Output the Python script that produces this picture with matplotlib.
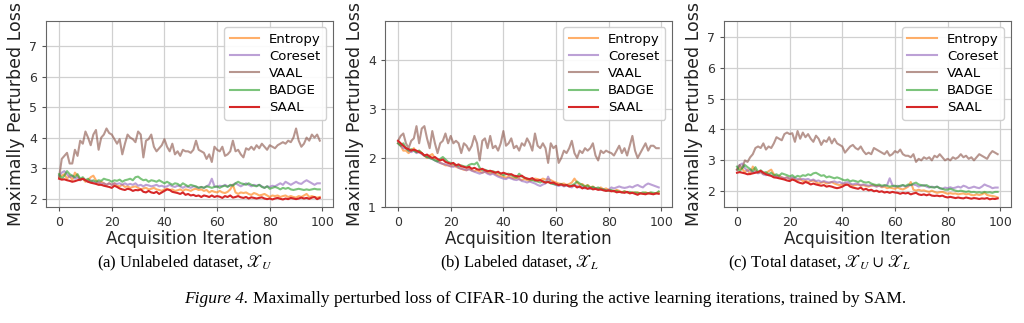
import numpy as np
import matplotlib
matplotlib.use("Agg")
import matplotlib.pyplot as plt

# methods shown in every panel
methods = ["Entropy", "Coreset", "VAAL", "BADGE", "SAAL"]
colors = ["tab:orange", "tab:purple", "tab:brown", "tab:green", "tab:red"]

# (a) unlabeled dataset
unl_entropy = [2.70, 2.75, 2.80, 2.65, 2.75, 2.60, 2.85, 2.75, 2.60, 2.65, 2.55, 2.60, 2.70, 2.75, 2.60, 2.50, 2.55, 2.50, 2.45, 2.50,
               2.45, 2.50, 2.42, 2.40, 2.45, 2.38, 2.40, 2.35, 2.38, 2.40, 2.35, 2.30, 2.33, 2.35, 2.30, 2.32, 2.35, 2.30, 2.28, 2.25,
               2.30, 2.32, 2.28, 2.30, 2.25, 2.27, 2.30, 2.25, 2.30, 2.28, 2.25, 2.30, 2.32, 2.28, 2.30, 2.25, 2.28, 2.20, 2.25, 2.22,
               2.20, 2.25, 2.20, 2.18, 2.22, 2.30, 2.45, 2.20, 2.15, 2.20, 2.18, 2.20, 2.15, 2.12, 2.18, 2.15, 2.10, 2.12, 2.15, 2.10,
               2.05, 2.10, 2.08, 2.10, 2.05, 2.08, 2.10, 2.05, 2.08, 2.05, 2.03, 2.08, 2.05, 2.10, 2.15, 2.05, 2.08, 2.05, 2.03, 2.05]
unl_coreset = [2.75, 2.85, 2.90, 2.80, 2.70, 2.75, 2.65, 2.70, 2.60, 2.65, 2.60, 2.55, 2.60, 2.55, 2.50, 2.55, 2.48, 2.50, 2.45, 2.50,
               2.45, 2.50, 2.48, 2.50, 2.45, 2.50, 2.45, 2.48, 2.45, 2.50, 2.42, 2.45, 2.40, 2.45, 2.43, 2.40, 2.42, 2.45, 2.40, 2.42,
               2.38, 2.40, 2.45, 2.40, 2.38, 2.42, 2.40, 2.35, 2.40, 2.38, 2.35, 2.40, 2.38, 2.35, 2.38, 2.35, 2.40, 2.45, 2.65, 2.40,
               2.38, 2.42, 2.40, 2.45, 2.40, 2.42, 2.45, 2.50, 2.45, 2.40, 2.45, 2.50, 2.45, 2.40, 2.45, 2.42, 2.45, 2.40, 2.35, 2.40,
               2.38, 2.42, 2.40, 2.45, 2.50, 2.45, 2.55, 2.50, 2.45, 2.50, 2.55, 2.50, 2.48, 2.55, 2.60, 2.55, 2.50, 2.45, 2.50, 2.50]
unl_vaal = [2.70, 3.30, 3.40, 3.50, 3.15, 3.15, 3.60, 3.40, 3.90, 3.80, 4.20, 4.00, 3.75, 4.10, 4.25, 3.60, 4.00, 4.10, 4.30, 4.15,
            4.10, 3.95, 3.80, 3.95, 3.45, 3.80, 4.10, 4.00, 3.95, 3.85, 4.20, 4.10, 3.35, 3.90, 3.95, 4.10, 3.70, 3.55, 3.65, 3.75,
            3.95, 3.70, 3.55, 3.80, 3.45, 3.55, 3.40, 3.60, 3.55, 3.55, 3.50, 3.60, 3.90, 3.60, 3.55, 3.50, 3.30, 3.45, 3.20, 3.70,
            3.60, 3.55, 3.70, 3.40, 3.45, 3.55, 3.90, 3.55, 3.60, 3.45, 3.35, 3.65, 3.60, 3.70, 3.60, 3.75, 3.65, 3.80, 3.70, 3.60,
            3.75, 3.70, 3.65, 3.75, 3.80, 3.85, 3.80, 3.90, 3.85, 4.00, 4.30, 3.90, 3.70, 3.80, 4.00, 3.90, 4.10, 4.00, 4.10, 3.90]
unl_badge = [2.80, 2.65, 2.75, 2.90, 2.80, 2.75, 2.70, 2.80, 2.65, 2.70, 2.60, 2.65, 2.55, 2.60, 2.55, 2.60, 2.58, 2.65, 2.62, 2.60,
             2.55, 2.60, 2.58, 2.62, 2.55, 2.60, 2.62, 2.65, 2.60, 2.70, 2.72, 2.65, 2.60, 2.62, 2.55, 2.60, 2.58, 2.55, 2.60, 2.55,
             2.50, 2.55, 2.50, 2.45, 2.50, 2.48, 2.42, 2.50, 2.45, 2.40, 2.45, 2.42, 2.40, 2.35, 2.38, 2.35, 2.40, 2.38, 2.35, 2.38,
             2.40, 2.35, 2.40, 2.42, 2.38, 2.45, 2.42, 2.50, 2.55, 2.50, 2.48, 2.45, 2.50, 2.45, 2.42, 2.40, 2.45, 2.38, 2.35, 2.40,
             2.32, 2.35, 2.38, 2.35, 2.30, 2.35, 2.32, 2.35, 2.30, 2.28, 2.30, 2.32, 2.30, 2.28, 2.30, 2.28, 2.30, 2.32, 2.30, 2.30]
unl_saal = [2.65, 2.62, 2.63, 2.60, 2.58, 2.55, 2.57, 2.60, 2.62, 2.65, 2.60, 2.55, 2.52, 2.50, 2.48, 2.45, 2.45, 2.42, 2.40, 2.38,
            2.35, 2.42, 2.38, 2.33, 2.30, 2.28, 2.32, 2.30, 2.25, 2.28, 2.27, 2.30, 2.22, 2.20, 2.25, 2.20, 2.18, 2.22, 2.15, 2.20,
            2.25, 2.30, 2.28, 2.22, 2.20, 2.18, 2.15, 2.20, 2.12, 2.15, 2.10, 2.12, 2.08, 2.10, 2.05, 2.10, 2.08, 2.05, 2.10, 2.05,
            2.08, 2.06, 2.02, 2.08, 2.05, 2.10, 2.03, 2.05, 2.08, 2.04, 2.02, 2.05, 2.00, 2.04, 2.02, 2.00, 2.02, 2.04, 2.00, 1.98,
            2.00, 1.97, 2.00, 2.02, 1.99, 1.97, 2.00, 1.98, 2.02, 2.00, 1.98, 2.00, 2.03, 2.00, 2.02, 1.99, 2.03, 2.05, 1.98, 2.02]

# (b) labeled dataset
lab_entropy = [2.30, 2.25, 2.15, 2.15, 2.10, 2.15, 2.20, 2.12, 2.15, 2.10, 2.05, 2.00, 2.05, 2.08, 2.00, 1.95, 1.90, 1.88, 1.85, 1.85,
               1.83, 1.85, 1.82, 1.80, 1.78, 1.76, 1.75, 1.78, 1.75, 1.73, 1.75, 1.72, 1.70, 1.72, 1.70, 1.68, 1.70, 1.67, 1.65, 1.63,
               1.62, 1.60, 1.62, 1.60, 1.58, 1.60, 1.57, 1.55, 1.57, 1.55, 1.53, 1.55, 1.58, 1.57, 1.55, 1.58, 1.56, 1.57, 1.55, 1.52,
               1.50, 1.48, 1.47, 1.48, 1.45, 1.47, 1.50, 1.58, 1.50, 1.45, 1.47, 1.42, 1.45, 1.40, 1.42, 1.38, 1.37, 1.40, 1.36, 1.38,
               1.35, 1.33, 1.32, 1.35, 1.33, 1.30, 1.32, 1.30, 1.28, 1.30, 1.29, 1.30, 1.28, 1.27, 1.30, 1.28, 1.29, 1.27, 1.28, 1.30]
lab_coreset = [2.30, 2.25, 2.20, 2.20, 2.15, 2.12, 2.15, 2.10, 2.12, 2.08, 2.05, 2.02, 2.00, 1.98, 1.95, 1.92, 1.90, 1.88, 1.87, 1.85,
               1.83, 1.82, 1.85, 1.80, 1.78, 1.77, 1.75, 1.77, 1.74, 1.72, 1.70, 1.68, 1.70, 1.72, 1.68, 1.66, 1.68, 1.65, 1.62, 1.60,
               1.58, 1.57, 1.60, 1.58, 1.56, 1.55, 1.57, 1.53, 1.52, 1.50, 1.52, 1.50, 1.48, 1.45, 1.43, 1.46, 1.48, 1.62, 1.50, 1.47,
               1.45, 1.43, 1.45, 1.42, 1.44, 1.42, 1.40, 1.45, 1.43, 1.40, 1.42, 1.38, 1.40, 1.37, 1.40, 1.38, 1.37, 1.35, 1.36, 1.33,
               1.35, 1.40, 1.38, 1.40, 1.42, 1.40, 1.39, 1.40, 1.42, 1.40, 1.43, 1.45, 1.42, 1.40, 1.45, 1.48, 1.46, 1.44, 1.42, 1.40]
lab_vaal = [2.35, 2.45, 2.50, 2.30, 2.20, 2.35, 2.40, 2.65, 2.30, 2.60, 2.65, 2.40, 2.20, 2.55, 2.30, 2.10, 2.30, 2.35, 2.50, 2.30,
            2.45, 2.30, 2.35, 2.30, 2.10, 2.30, 2.25, 2.15, 2.25, 2.45, 2.30, 1.95, 2.35, 2.40, 2.20, 2.45, 2.20, 2.25, 2.15, 2.30,
            2.55, 2.25, 2.30, 2.40, 2.20, 2.25, 2.15, 2.30, 2.25, 2.40, 2.30, 2.15, 2.50, 2.25, 2.20, 2.30, 2.20, 1.90, 2.30, 2.20,
            2.25, 1.90, 2.00, 2.15, 2.10, 2.20, 2.35, 2.10, 2.00, 2.15, 2.10, 2.20, 2.15, 2.20, 2.30, 2.05, 1.95, 2.15, 2.10, 2.15,
            2.12, 2.10, 2.05, 2.15, 2.25, 2.10, 2.20, 2.05, 2.25, 2.45, 2.15, 2.00, 2.10, 2.20, 2.30, 2.15, 2.25, 2.25, 2.20, 2.20]
lab_badge = [2.30, 2.25, 2.30, 2.20, 2.15, 2.18, 2.15, 2.12, 2.15, 2.10, 2.05, 2.02, 2.00, 1.98, 1.95, 1.93, 1.98, 2.02, 1.97, 1.92,
             1.90, 1.88, 1.86, 1.84, 1.85, 1.83, 1.82, 1.86, 1.88, 1.87, 1.91, 1.80, 1.75, 1.76, 1.74, 1.72, 1.73, 1.71, 1.70, 1.68,
             1.65, 1.67, 1.68, 1.65, 1.62, 1.60, 1.68, 1.62, 1.60, 1.58, 1.56, 1.55, 1.53, 1.52, 1.50, 1.53, 1.50, 1.52, 1.48, 1.47,
             1.46, 1.45, 1.47, 1.44, 1.45, 1.43, 1.44, 1.47, 1.52, 1.48, 1.45, 1.42, 1.44, 1.40, 1.41, 1.38, 1.40, 1.37, 1.36, 1.34,
             1.33, 1.35, 1.32, 1.33, 1.31, 1.30, 1.32, 1.30, 1.31, 1.29, 1.30, 1.29, 1.28, 1.30, 1.29, 1.28, 1.30, 1.29, 1.28, 1.32]
lab_saal = [2.35, 2.30, 2.25, 2.20, 2.18, 2.15, 2.17, 2.15, 2.12, 2.10, 2.05, 2.07, 2.03, 2.00, 2.02, 1.98, 1.95, 1.97, 1.92, 1.90,
            1.88, 1.90, 1.85, 1.87, 1.83, 1.82, 1.80, 1.82, 1.78, 1.80, 1.77, 1.76, 1.78, 1.75, 1.73, 1.74, 1.72, 1.70, 1.72, 1.68,
            1.70, 1.68, 1.66, 1.67, 1.64, 1.63, 1.62, 1.64, 1.60, 1.58, 1.57, 1.59, 1.55, 1.54, 1.55, 1.52, 1.50, 1.51, 1.49, 1.50,
            1.47, 1.45, 1.46, 1.44, 1.45, 1.42, 1.43, 1.44, 1.40, 1.42, 1.38, 1.40, 1.37, 1.39, 1.36, 1.37, 1.35, 1.36, 1.34, 1.33,
            1.34, 1.32, 1.33, 1.30, 1.31, 1.30, 1.29, 1.31, 1.28, 1.29, 1.27, 1.25, 1.28, 1.27, 1.26, 1.28, 1.27, 1.26, 1.28, 1.27]

# (c) total dataset
tot_entropy = [2.70, 2.75, 2.72, 2.62, 2.70, 2.55, 2.80, 2.68, 2.60, 2.62, 2.55, 2.58, 2.65, 2.70, 2.55, 2.48, 2.50, 2.45, 2.42, 2.45,
               2.40, 2.42, 2.38, 2.36, 2.40, 2.33, 2.35, 2.30, 2.33, 2.35, 2.30, 2.25, 2.28, 2.30, 2.25, 2.27, 2.30, 2.25, 2.22, 2.20,
               2.22, 2.25, 2.20, 2.22, 2.18, 2.20, 2.22, 2.18, 2.20, 2.17, 2.15, 2.18, 2.20, 2.16, 2.18, 2.13, 2.15, 2.10, 2.12, 2.10,
               2.08, 2.12, 2.08, 2.06, 2.10, 2.15, 2.30, 2.05, 2.02, 2.05, 2.02, 2.03, 2.00, 1.98, 2.02, 1.98, 1.95, 1.97, 1.98, 1.95,
               1.92, 1.94, 1.92, 1.93, 1.90, 1.92, 1.93, 1.90, 1.92, 1.88, 1.87, 1.90, 1.88, 1.90, 1.95, 1.88, 1.86, 1.85, 1.83, 1.80]
tot_coreset = [2.70, 2.85, 2.90, 2.75, 2.65, 2.70, 2.60, 2.65, 2.58, 2.62, 2.55, 2.52, 2.55, 2.50, 2.47, 2.50, 2.44, 2.45, 2.42, 2.45,
               2.40, 2.45, 2.42, 2.40, 2.38, 2.40, 2.38, 2.40, 2.35, 2.38, 2.33, 2.35, 2.30, 2.33, 2.30, 2.28, 2.30, 2.32, 2.28, 2.30,
               2.25, 2.27, 2.30, 2.25, 2.22, 2.25, 2.23, 2.20, 2.22, 2.20, 2.18, 2.20, 2.18, 2.15, 2.18, 2.15, 2.18, 2.20, 2.42, 2.20,
               2.15, 2.18, 2.15, 2.20, 2.15, 2.18, 2.20, 2.22, 2.20, 2.15, 2.18, 2.20, 2.15, 2.12, 2.15, 2.13, 2.15, 2.10, 2.08, 2.12,
               2.10, 2.13, 2.10, 2.12, 2.15, 2.12, 2.18, 2.15, 2.10, 2.12, 2.15, 2.12, 2.10, 2.15, 2.22, 2.18, 2.15, 2.10, 2.12, 2.12]
tot_vaal = [2.70, 2.85, 2.75, 3.00, 2.95, 3.10, 3.20, 3.40, 3.45, 3.40, 3.55, 3.35, 3.45, 3.40, 3.55, 3.75, 3.70, 3.65, 3.85, 3.90,
            3.85, 3.88, 3.60, 3.95, 3.70, 3.90, 3.75, 3.85, 3.70, 3.60, 3.80, 3.70, 3.50, 3.65, 3.60, 3.75, 3.55, 3.70, 3.55, 3.50,
            3.45, 3.25, 3.35, 3.45, 3.50, 3.40, 3.35, 3.45, 3.30, 3.20, 3.25, 3.20, 3.40, 3.35, 3.30, 3.25, 3.20, 3.30, 3.15, 3.20,
            3.30, 3.25, 3.35, 3.20, 3.15, 3.15, 3.10, 3.20, 2.95, 3.05, 3.00, 3.10, 3.05, 3.10, 3.00, 3.15, 3.10, 3.20, 3.10, 3.00,
            3.05, 3.00, 3.10, 3.05, 3.10, 3.20, 3.10, 3.15, 3.05, 3.10, 3.00, 3.10, 3.20, 3.15, 3.10, 3.05, 3.20, 3.30, 3.25, 3.20]
tot_badge = [2.80, 2.65, 2.75, 2.85, 2.78, 2.72, 2.65, 2.78, 2.62, 2.68, 2.60, 2.62, 2.55, 2.60, 2.52, 2.55, 2.50, 2.58, 2.55, 2.52,
             2.48, 2.52, 2.45, 2.50, 2.47, 2.52, 2.50, 2.55, 2.52, 2.58, 2.60, 2.55, 2.50, 2.52, 2.45, 2.48, 2.45, 2.42, 2.45, 2.42,
             2.38, 2.35, 2.38, 2.32, 2.35, 2.33, 2.30, 2.35, 2.30, 2.28, 2.30, 2.25, 2.22, 2.20, 2.22, 2.18, 2.20, 2.18, 2.15, 2.17,
             2.18, 2.15, 2.18, 2.20, 2.17, 2.22, 2.20, 2.25, 2.28, 2.22, 2.20, 2.18, 2.20, 2.15, 2.13, 2.12, 2.15, 2.10, 2.08, 2.05,
             2.05, 2.08, 2.05, 2.02, 2.00, 2.02, 2.00, 1.98, 2.00, 1.97, 1.98, 1.96, 1.97, 1.95, 1.98, 1.96, 1.97, 1.95, 1.98, 1.98]
tot_saal = [2.60, 2.62, 2.60, 2.58, 2.55, 2.56, 2.58, 2.60, 2.62, 2.66, 2.60, 2.55, 2.52, 2.50, 2.45, 2.44, 2.42, 2.40, 2.38, 2.35,
            2.33, 2.38, 2.35, 2.30, 2.27, 2.25, 2.30, 2.27, 2.22, 2.25, 2.22, 2.20, 2.18, 2.20, 2.15, 2.17, 2.15, 2.12, 2.10, 2.12,
            2.15, 2.20, 2.22, 2.15, 2.12, 2.10, 2.08, 2.12, 2.05, 2.08, 2.03, 2.05, 2.00, 2.02, 1.98, 2.00, 1.96, 1.98, 1.95, 1.98,
            1.96, 1.95, 1.92, 1.95, 1.93, 1.95, 1.90, 1.93, 1.95, 1.90, 1.88, 1.90, 1.87, 1.90, 1.86, 1.85, 1.86, 1.84, 1.86, 1.82,
            1.80, 1.82, 1.80, 1.78, 1.80, 1.78, 1.77, 1.80, 1.78, 1.76, 1.78, 1.77, 1.75, 1.77, 1.76, 1.78, 1.74, 1.76, 1.75, 1.77]

panels = [
    ([unl_entropy, unl_coreset, unl_vaal, unl_badge, unl_saal], (1.72, 7.84), [2, 3, 4, 5, 6, 7],
     "(a) Unlabeled dataset, $\\mathscr{X}_U$"),
    ([lab_entropy, lab_coreset, lab_vaal, lab_badge, lab_saal], (1.0, 4.8), [1, 2, 3, 4],
     "(b) Labeled dataset, $\\mathscr{X}_L$"),
    ([tot_entropy, tot_coreset, tot_vaal, tot_badge, tot_saal], (1.49, 7.52), [2, 3, 4, 5, 6, 7],
     "(c) Total dataset, $\\mathscr{X}_U \\,\\cup\\, \\mathscr{X}_L$"),
]

plt.rcParams["mathtext.fontset"] = "stix"

fig = plt.figure(figsize=(10.24, 3.23), dpi=100)
lefts = [0.045, 0.376, 0.707]
cap_x = [0.180, 0.507, 0.800]

for i, (series, ylim, yticks, caption) in enumerate(panels):
    ax = fig.add_axes([lefts[i], 0.359, 0.280, 0.577])
    for name, col, vals in zip(methods, colors, series):
        a = 1.0 if name == "SAAL" else 0.62
        ax.plot(np.arange(len(vals)), vals, color=col, lw=1.5, alpha=a, label=name)
    ax.set_ylim(*ylim)
    ax.set_yticks(yticks)
    ax.set_xticks([0, 20, 40, 60, 80, 100])
    ax.grid(True, color="#d0d0d0", lw=0.9)
    ax.set_axisbelow(True)
    for s in ax.spines.values():
        s.set_color("#666666")
    ax.tick_params(labelsize=9, colors="#555555", labelcolor="#333333", length=3)
    ax.set_xlabel("Acquisition Iteration", fontsize=12, color="#222222", labelpad=1)
    ax.set_ylabel("Maximally Perturbed Loss", fontsize=12.5, color="#222222", labelpad=3)
    ax.legend(loc="upper right", fontsize=9.5, handlelength=2.2, labelspacing=0.32,
              framealpha=0.9)
    fig.text(cap_x[i], 0.185, caption, ha="center", va="center",
             fontsize=12, family="Liberation Serif")

# figure caption: italic label followed by the description
fig.text(0.243, 0.075, "Figure 4.", ha="right", va="center", fontsize=12.5,
         family="Liberation Serif", style="italic")
fig.text(0.247, 0.075,
         "Maximally perturbed loss of CIFAR-10 during the active learning iterations, trained by SAM.",
         ha="left", va="center", fontsize=12.5, family="Liberation Serif")

fig.savefig("out.png", dpi=100)
